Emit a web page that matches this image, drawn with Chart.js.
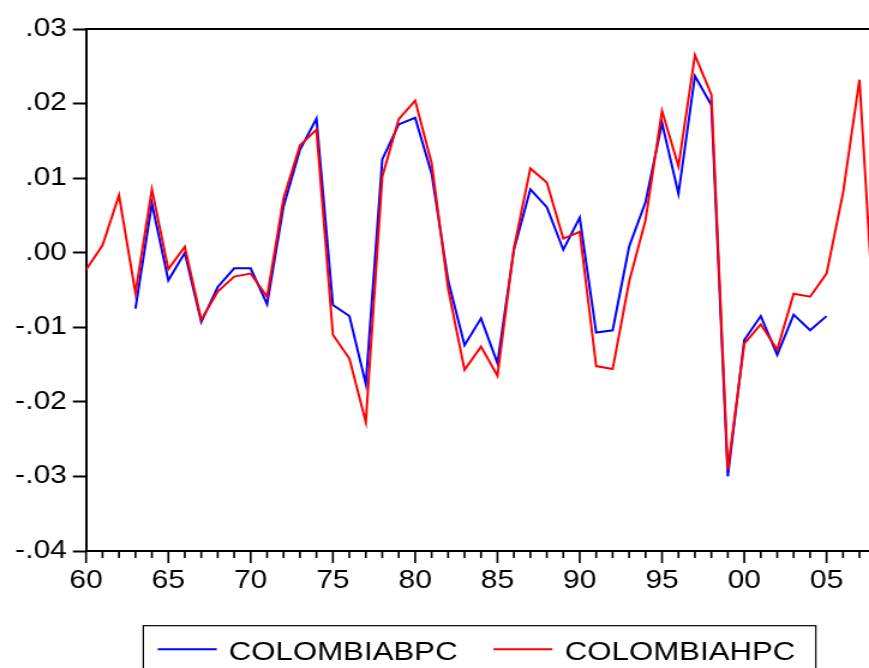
<!DOCTYPE html>
<html><head><meta charset="utf-8">
<script src="https://cdn.jsdelivr.net/npm/chart.js@4.4.0/dist/chart.umd.min.js"></script>
<style>
html,body{margin:0;padding:0;background:#fff;overflow:hidden;}
#wrap{position:absolute;left:0;top:0;width:724px;height:668px;transform:scaleX(1.20028);transform-origin:0 0;}
canvas{display:block;}
</style></head><body>
<div id="wrap"><canvas id="c" width="724" height="668"></canvas></div>
<script>
const years = [1960,1961,1962,1963,1964,1965,1966,1967,1968,1969,
  1970,1971,1972,1973,1974,1975,1976,1977,1978,1979,
  1980,1981,1982,1983,1984,1985,1986,1987,1988,1989,
  1990,1991,1992,1993,1994,1995,1996,1997,1998,1999,
  2000,2001,2002,2003,2004,2005,2006,2007,2008];
const colombiaBPC = [null,null,null,-0.0075,0.0066,-0.0037,0.0000,-0.0093,-0.0046,-0.0021,
  -0.0021,-0.0069,0.0062,0.0138,0.0180,-0.0070,-0.0085,-0.0176,0.0125,0.0172,
  0.0181,0.0106,-0.0037,-0.0124,-0.0088,-0.0148,0.0004,0.0085,0.0061,0.0004,
  0.0047,-0.0107,-0.0104,0.0008,0.0068,0.0174,0.0079,0.0237,0.0198,-0.0300,
  -0.0117,-0.0085,-0.0137,-0.0083,-0.0104,-0.0085,null,null,null];
const colombiaHPC = [-0.0023,0.0010,0.0077,-0.0054,0.0085,-0.0022,0.0008,-0.0090,-0.0052,-0.0032,
  -0.0028,-0.0059,0.0073,0.0144,0.0165,-0.0110,-0.0142,-0.0227,0.0102,0.0179,
  0.0204,0.0120,-0.0048,-0.0157,-0.0126,-0.0165,0.0006,0.0113,0.0094,0.0019,
  0.0028,-0.0152,-0.0156,-0.0039,0.0044,0.0190,0.0116,0.0265,0.0212,-0.0291,
  -0.0122,-0.0096,-0.0130,-0.0055,-0.0059,-0.0028,0.0080,0.0232,-0.0134];
const seriesNames = ['COLOMBIABPC','COLOMBIAHPC'];
const seriesColors = ['#0000ff','#ff0000'];
const xTickYears = [1960,1965,1970,1975,1980,1985,1990,1995,2000,2005];
const xTickLabels = ['60','65','70','75','80','85','90','95','00','05'];
const yTickValues = [-0.04,-0.03,-0.02,-0.01,0.00,0.01,0.02,0.03];
const yTickLabels = ['-.04','-.03','-.02','-.01','.00','.01','.02','.03'];

const FONT = "'Liberation Sans', Arial, sans-serif";

function toPoints(vals){ return years.map((yr,i)=>({x:yr,y:vals[i]})); }

const framePlugin = {
  id:'frame',
  afterDraw(chart){
    const ctx = chart.ctx, a = chart.chartArea, x = chart.scales.x;
    ctx.save();
    ctx.strokeStyle = '#000';
    ctx.lineWidth = 2;
    ctx.beginPath(); ctx.moveTo(a.left - 1, a.top); ctx.lineTo(chart.width + 5, a.top); ctx.stroke();
    ctx.lineWidth = 1.67;
    years.forEach(yr=>{
      if (yr > x.max || yr < x.min) return;
      const px = x.getPixelForValue(yr);
      const len = xTickYears.includes(yr) ? 12 : 7;
      ctx.beginPath(); ctx.moveTo(px, a.bottom); ctx.lineTo(px, a.bottom + len); ctx.stroke();
    });
    // legend
    ctx.lineWidth = 1.2;
    ctx.strokeRect(119.4, 625.7, 560.3, 100);
    const items = [{x0:131.4, x1:180.6, tx:190.5},{x0:411.1, x1:460.3, tx:470.5}];
    ctx.font = "26px " + FONT;
    ctx.textBaseline = 'alphabetic';
    ctx.fillStyle = '#000';
    chart.data.datasets.forEach((ds,i)=>{
      const it = items[i];
      ctx.strokeStyle = ds.borderColor; ctx.lineWidth = 2;
      ctx.beginPath(); ctx.moveTo(it.x0, 649.3); ctx.lineTo(it.x1, 649.3); ctx.stroke();
      ctx.fillText(ds.label, it.tx, 660);
    });
    ctx.restore();
  }
};

new Chart(document.getElementById('c'), {
  type:'line',
  data:{
    datasets:[
      {label:seriesNames[0], data:toPoints(colombiaBPC), borderColor:seriesColors[0], backgroundColor:seriesColors[0], borderWidth:2, pointRadius:0, tension:0, spanGaps:false, order:1},
      {label:seriesNames[1], data:toPoints(colombiaHPC), borderColor:seriesColors[1], backgroundColor:seriesColors[1], borderWidth:2, pointRadius:0, tension:0, spanGaps:false, order:0}
    ]
  },
  options:{
    responsive:false,
    animation:false,
    devicePixelRatio:1,
    layout:{padding:{top:29,left:0,right:0,bottom:72}},
    plugins:{legend:{display:false}, tooltip:{enabled:false}},
    scales:{
      x:{
        type:'linear', min:1960, max:2007.58,
        afterBuildTicks:s=>{ s.ticks = xTickYears.map(v=>({value:v})); },
        ticks:{callback:v=>xTickLabels[xTickYears.indexOf(v)], autoSkip:false, maxRotation:0, minRotation:0,
          font:{family:FONT,size:25}, color:'#000', padding:3},
        grid:{display:true, drawOnChartArea:false, drawTicks:true, tickLength:12, tickColor:'rgba(0,0,0,0)'},
        border:{display:true, color:'#000', width:2},
        afterFit:s=>{ s.height = 45; }
      },
      y:{
        min:-0.04, max:0.03,
        afterBuildTicks:s=>{ s.ticks = yTickValues.map(v=>({value:v})); },
        ticks:{callback:v=>{ const k = yTickValues.findIndex(t=>Math.abs(t-v)<1e-9); return k>=0 ? yTickLabels[k] : ''; },
          font:{family:FONT,size:25}, color:'#000', padding:5},
        grid:{display:true, drawOnChartArea:false, drawTicks:true, tickLength:11, tickWidth:2, tickColor:'#000'},
        border:{display:true, color:'#000', width:2},
        afterFit:s=>{ s.width = 71.7; }
      }
    }
  },
  plugins:[framePlugin]
});
</script>
</body></html>
